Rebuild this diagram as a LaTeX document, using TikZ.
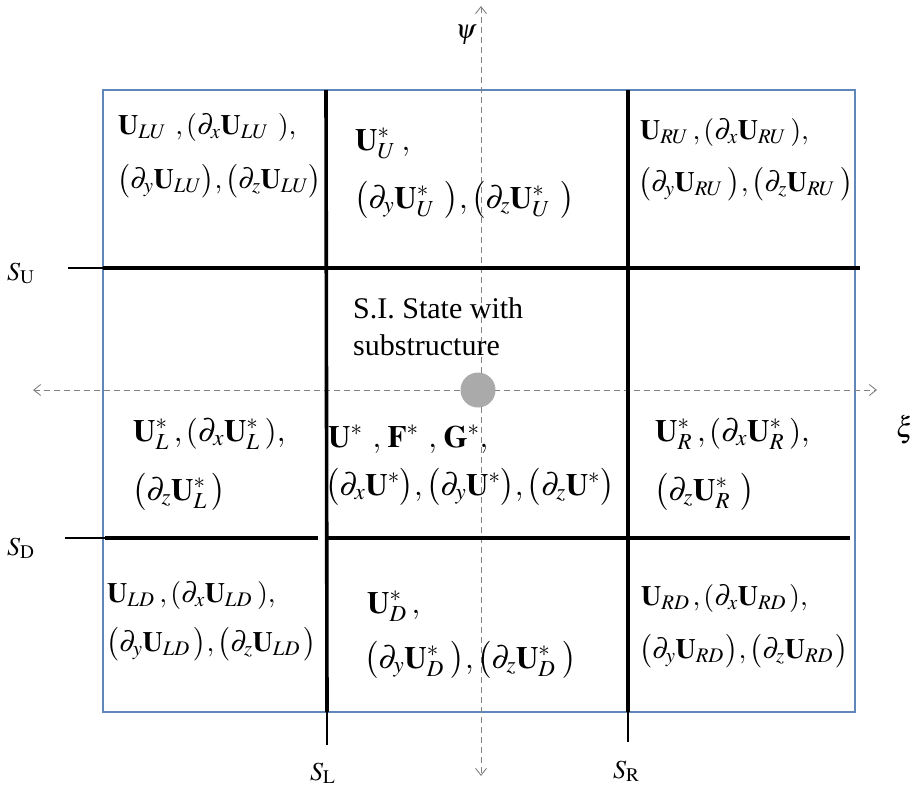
\documentclass[tikz,border=0pt]{standalone}
\usepackage{mathptmx}
\usepackage{fontspec}
\setmainfont{Liberation Serif}
\usetikzlibrary{arrows.meta}
\definecolor{boxblue}{RGB}{95,135,185}
\definecolor{axisgray}{RGB}{130,130,130}
\definecolor{dotgray}{RGB}{170,170,170}
\newcommand{\Ub}{\mathbf{U}}
\newcommand{\pd}{\partial}
\newcommand{\gp}[1]{\hspace{#1pt}}
\begin{document}
\begin{tikzpicture}[x=1pt,y=-1pt,
  thickline/.style={line width=3.6pt},
  thinline/.style={line width=1.6pt},
  axisline/.style={axisgray,dash pattern=on 6pt off 4pt,line width=0.9pt,{Straight Barb[length=7pt,width=11pt]}-{Straight Barb[length=7pt,width=11pt]}},
  ctext/.style={anchor=base west,inner sep=0pt,font=\fontsize{28}{33}\selectfont},
  mtext/.style={anchor=base west,inner sep=0pt,font=\fontsize{31}{36}\selectfont},
  ltext/.style={anchor=base west,inner sep=0pt,font=\fontsize{26}{31}\selectfont},
  stext/.style={anchor=base west,inner sep=0pt,font=\fontsize{30}{35}\selectfont}]
\useasboundingbox (0,0) rectangle (917,790);
% outer box
\draw[boxblue,line width=1.2pt] (103,90) rectangle (855,712);
% axes
\coordinate (xl) at (33,390);
\coordinate (xr) at (877,390);
\coordinate (yt) at (481,6);
\coordinate (yb) at (481,776);
\draw[axisline] (xl) -- (xr);
\draw[axisline] (yt) -- (yb);
\node[inner sep=0pt,font=\fontsize{27}{32}\selectfont] (psi) at (466,35) {$\psi$};
\node[inner sep=0pt,font=\fontsize{29}{34}\selectfont] (xi) at (905,430) {$\xi$};
\node[circle,fill=dotgray,minimum size=35pt,inner sep=0pt] (dot) at (478,390) {};
% S_L
\coordinate (SLt) at (326,90);
\coordinate (SLb) at (327,712);
\coordinate (SLe) at (327,745);
\draw[thickline] (SLt) -- (SLb);
\draw[thinline] (SLb) -- (SLe);
% S_R
\coordinate (SRt) at (628,90);
\coordinate (SRb) at (628,712);
\coordinate (SRe) at (628,742);
\draw[thickline] (SRt) -- (SRb);
\draw[thinline] (SRb) -- (SRe);
% S_U
\coordinate (SUs) at (68,268);
\coordinate (SUa) at (103,268);
\coordinate (SUe) at (860,268);
\draw[thinline] (SUs) -- (SUa);
\draw[thickline] (SUa) -- (SUe);
% S_D
\coordinate (SDs) at (65,538);
\coordinate (SDa) at (105,538);
\coordinate (SDb) at (318,538);
\coordinate (SDc) at (326,538);
\coordinate (SDe) at (850,538);
\draw[thinline] (SDs) -- (SDa);
\draw[thickline] (SDa) -- (SDb);
\draw[thickline] (SDc) -- (SDe);
% surface labels
\node[ltext] (lSU) at (7,280) {$S_{\mathrm{U}}$};
\node[ltext] (lSD) at (7,555) {$S_{\mathrm{D}}$};
\node[ltext] (lSL) at (310,780) {$S_{\mathrm{L}}$};
\node[ltext] (lSR) at (613,778) {$S_{\mathrm{R}}$};
% LU
\node[ctext] (lu1) at (118,134) {$\Ub_{LU}\gp{9},(\pd_x\Ub_{LU}\gp{9}),$};
\node[ctext] (lu2) at (117,188) {$\bigl(\pd_y\Ub_{LU}\bigr),\bigl(\pd_z\Ub_{LU}\bigr)$};
% U
\node[mtext] (u1) at (355,150) {$\Ub^{*}_{U}\gp{6},$};
\node[mtext] (u2) at (354,208) {$\bigl(\pd_y\Ub^{*}_{U}\gp{10}\bigr),\bigl(\pd_z\Ub^{*}_{U}\gp{10}\bigr)$};
% RU
\node[ctext] (ru1) at (640,139) {$\Ub_{RU}\gp{4},(\pd_x\Ub_{RU}\gp{4}),$};
\node[ctext] (ru2) at (638,191) {$\bigl(\pd_y\Ub_{RU}\gp{5}\bigr),\bigl(\pd_z\Ub_{RU}\gp{5}\bigr)$};
% center
\node[stext] (si1) at (353,318) {S.I. State with};
\node[stext] (si2) at (353,355) {substructure};
\node[mtext] (c1) at (328,447) {$\Ub^{*}\gp{10},\gp{3}\mathbf{F}^{*}\gp{10},\gp{3}\mathbf{G}^{*},$};
\node[mtext] (c2) at (325,495) {$\bigl(\pd_x\Ub^{*}\bigr),\bigl(\pd_y\Ub^{*}\bigr),\bigl(\pd_z\Ub^{*}\bigr)$};
% L
\node[mtext] (l1) at (133,441) {$\Ub^{*}_{L}\gp{5},(\pd_x\Ub^{*}_{L}\gp{5}),$};
\node[mtext] (l2) at (132,500) {$\bigl(\pd_z\Ub^{*}_{L}\gp{5}\bigr)$};
% R
\node[mtext] (r1) at (655,441) {$\Ub^{*}_{R}\gp{5},(\pd_x\Ub^{*}_{R}\gp{5}),$};
\node[mtext] (r2) at (654,500) {$\bigl(\pd_z\Ub^{*}_{R}\gp{10}\bigr)$};
% LD
\node[ctext] (ld1) at (107,602) {$\Ub_{LD}\gp{5},(\pd_x\Ub_{LD}\gp{5}),$};
\node[ctext] (ld2) at (106,651) {$\bigl(\pd_y\Ub_{LD}\gp{4}\bigr),\bigl(\pd_z\Ub_{LD}\gp{4}\bigr)$};
% D
\node[mtext] (d1) at (367,613) {$\Ub^{*}_{D}\gp{5},$};
\node[mtext] (d2) at (364,668) {$\bigl(\pd_y\Ub^{*}_{D}\gp{7}\bigr),\bigl(\pd_z\Ub^{*}_{D}\gp{7}\bigr)$};
% RD
\node[ctext] (rd1) at (641,605) {$\Ub_{RD}\gp{3},(\pd_x\Ub_{RD}\gp{3}),$};
\node[ctext] (rd2) at (639,658) {$\bigl(\pd_y\Ub_{RD}\gp{2}\bigr),\bigl(\pd_z\Ub_{RD}\gp{2}\bigr)$};
\end{tikzpicture}
\end{document}
